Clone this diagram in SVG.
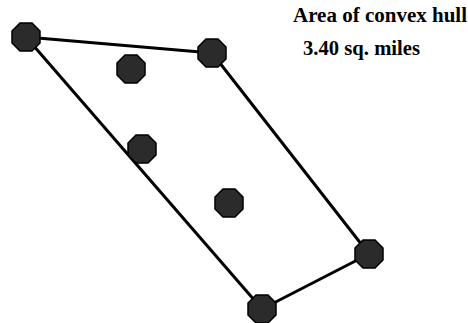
<svg xmlns="http://www.w3.org/2000/svg" width="468" height="323" viewBox="0 0 468 323">
<defs>
<style>
.e{stroke:#000;stroke-width:3;fill:none;stroke-linecap:round}
.n{fill:#2b2b2b;stroke:#000;stroke-width:1.5}
.t{font-family:"Liberation Serif",serif;font-weight:bold;font-size:20px;fill:#000}
</style>
<polygon id="oct" points="-6,-14 6,-14 14,-6 14,6 6,14 -6,14 -14,6 -14,-6"/>
</defs>
<rect width="468" height="323" fill="#fff"/>
<g id="connectors">
<line class="e" x1="26" y1="37" x2="212" y2="53"/>
<line class="e" x1="212" y1="53" x2="369" y2="254"/>
<line class="e" x1="369" y1="254" x2="262" y2="309"/>
<line class="e" x1="262" y1="309" x2="26" y2="37"/>
</g>
<g id="n1"><use href="#oct" class="n" x="26" y="37"/></g>
<g id="n2"><use href="#oct" class="n" x="212" y="53"/></g>
<g id="n3"><use href="#oct" class="n" x="131" y="69"/></g>
<g id="n4"><use href="#oct" class="n" x="142" y="149"/></g>
<g id="n5"><use href="#oct" class="n" x="229" y="203"/></g>
<g id="n6"><use href="#oct" class="n" x="369" y="254"/></g>
<g id="n7"><use href="#oct" class="n" x="262" y="309"/></g>
<g id="label">
<text class="t" x="293" y="22" textLength="174" lengthAdjust="spacingAndGlyphs">Area of convex hull</text>
<text class="t" x="303" y="55" textLength="117" lengthAdjust="spacingAndGlyphs">3.40 sq. miles</text>
</g>
</svg>
